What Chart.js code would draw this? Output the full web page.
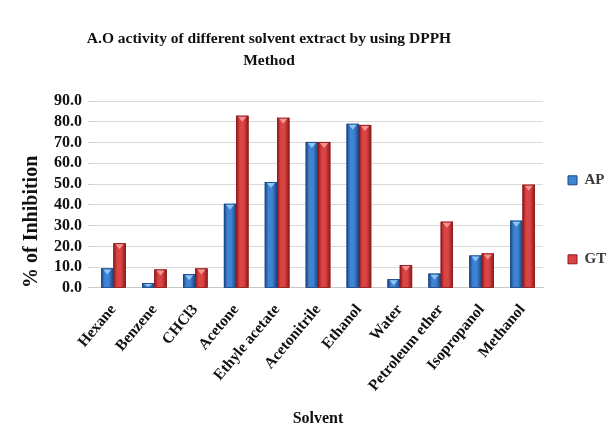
<!DOCTYPE html>
<html>
<head>
<meta charset="utf-8">
<script src="https://cdn.jsdelivr.net/npm/chart.js@4.4.1/dist/chart.umd.min.js"></script>
<style>
  html, body { margin: 0; padding: 0; background: #ffffff; }
  #wrap { width: 614px; height: 431px; position: relative; }
</style>
</head>
<body>
<div id="wrap"><canvas id="c" width="614" height="431"></canvas></div>
<script>
const solvents = ["Hexane", "Benzene", "CHCl3", "Acetone", "Ethyle acetate", "Acetonitrile",
                  "Ethanol", "Water", "Petroleum ether", "Isopropanol", "Methanol"];
const apValues = [9.4, 2.4, 6.6, 40.5, 51.0, 70.3, 79.0, 4.2, 6.9, 15.6, 32.4];
const gtValues = [21.5, 8.9, 9.4, 82.9, 81.9, 70.3, 78.5, 11.0, 31.9, 16.6, 49.7];
const yTicks = [0, 10, 20, 30, 40, 50, 60, 70, 80, 90];

const SERIF = "'Liberation Serif', 'Times New Roman', serif";

// Shading for the bevelled look of each bar: dark edges, bright middle, pale cap.
const shades = {
  AP: { base: "#2f6cb8", edge: "#1b4683", mid: "#3f83d4", cap: "#8cc4f2" },
  GT: { base: "#c8302f", edge: "#8c1b1b", mid: "#db4443", cap: "#f39391" }
};

const bevelPlugin = {
  id: "bevel",
  afterDatasetsDraw(chart) {
    const ctx = chart.ctx;
    chart.data.datasets.forEach((ds, di) => {
      const meta = chart.getDatasetMeta(di);
      const s = shades[ds.label];
      meta.data.forEach(bar => {
        const p = bar.getProps(["x", "y", "base", "width"], true);
        const l = p.x - p.width / 2, r = p.x + p.width / 2;
        const g = ctx.createLinearGradient(l, 0, r, 0);
        g.addColorStop(0, s.edge);
        g.addColorStop(0.3, s.mid);
        g.addColorStop(0.6, s.mid);
        g.addColorStop(1, s.edge);
        ctx.save();
        ctx.fillStyle = g;
        ctx.fillRect(l, p.y, p.width, p.base - p.y);
        ctx.strokeStyle = s.edge;
        ctx.lineWidth = 0.8;
        ctx.strokeRect(l + 0.4, p.y + 0.4, p.width - 0.8, p.base - p.y - 0.4);
        // small pale wedge at the top of the bar
        const h = Math.min(5, (p.base - p.y) * 0.6);
        ctx.fillStyle = s.cap;
        ctx.beginPath();
        ctx.moveTo(l + 2, p.y + 1);
        ctx.lineTo(r - 2, p.y + 1);
        ctx.lineTo(p.x, p.y + 1 + h);
        ctx.closePath();
        ctx.fill();
        ctx.restore();
      });
    });
  }
};

// The heading sits a little left of the page centre.
const titleShift = {
  id: "titleShift",
  afterLayout(chart) {
    if (chart.titleBlock) {
      chart.titleBlock.left -= 42;
      chart.titleBlock.right -= 42;
    }
  }
};

// Legend entries padded with blank lines so the two keys sit far apart.
const legendLines = {
  AP: ["AP"].concat(Array(4).fill("")),
  GT: ["GT"].concat(Array(13).fill(""))
};

new Chart(document.getElementById("c"), {
  type: "bar",
  data: {
    labels: solvents,
    datasets: [
      { label: "AP", data: apValues, backgroundColor: shades.AP.base, borderWidth: 0 },
      { label: "GT", data: gtValues, backgroundColor: shades.GT.base, borderWidth: 0 }
    ]
  },
  options: {
    responsive: false,
    animation: false,
    devicePixelRatio: 1,
    layout: { padding: { left: 8, right: 0, top: 0, bottom: 3 } },
    datasets: { bar: { categoryPercentage: 0.6, barPercentage: 1.0 } },
    plugins: {
      title: {
        display: true,
        text: ["A.O activity of different solvent extract by using DPPH", "Method"],
        font: { family: SERIF, size: 15.5, weight: "bold", lineHeight: 1.42 },
        color: "#111",
        padding: { top: 28, bottom: 29 }
      },
      legend: {
        position: "right",
        align: "end",
        maxWidth: 71,
        labels: {
          font: { family: SERIF, size: 15, weight: "bold", lineHeight: 0.72 },
          color: "#3a3a3a",
          boxWidth: 9,
          boxHeight: 9,
          padding: 25,
          generateLabels(chart) {
            return chart.data.datasets.map((ds, i) => ({
              text: legendLines[ds.label],
              fillStyle: shades[ds.label].mid,
              strokeStyle: shades[ds.label].edge,
              fontColor: "#3a3a3a",
              lineWidth: 1,
              datasetIndex: i
            }));
          }
        }
      },
      tooltip: { enabled: false }
    },
    scales: {
      x: {
        grid: { display: false },
        border: { display: true, color: "#c8c8c8" },
        ticks: {
          minRotation: 50, maxRotation: 50,
          font: { family: SERIF, size: 15.5, weight: "bold" },
          color: "#111", padding: 5
        },
        title: {
          display: true, text: "Solvent",
          font: { family: SERIF, size: 16, weight: "bold" },
          color: "#111", padding: { top: 9, bottom: 0 }
        }
      },
      y: {
        min: 0, max: 90,
        afterBuildTicks(axis) { axis.ticks = yTicks.map(v => ({ value: v })); },
        grid: { color: "#dadada", tickLength: 5, tickColor: "#cfcfcf" },
        border: { display: false },
        ticks: {
          autoSkip: false,
          font: { family: SERIF, size: 16, weight: "bold" },
          color: "#111", padding: 6,
          callback: v => v.toFixed(1)
        },
        title: {
          display: true, text: "% of Inhibition", align: "start",
          font: { family: SERIF, size: 20, weight: "bold" },
          color: "#111", padding: { top: 12, bottom: 4 }
        }
      }
    }
  },
  plugins: [bevelPlugin, titleShift]
});
</script>
</body>
</html>
